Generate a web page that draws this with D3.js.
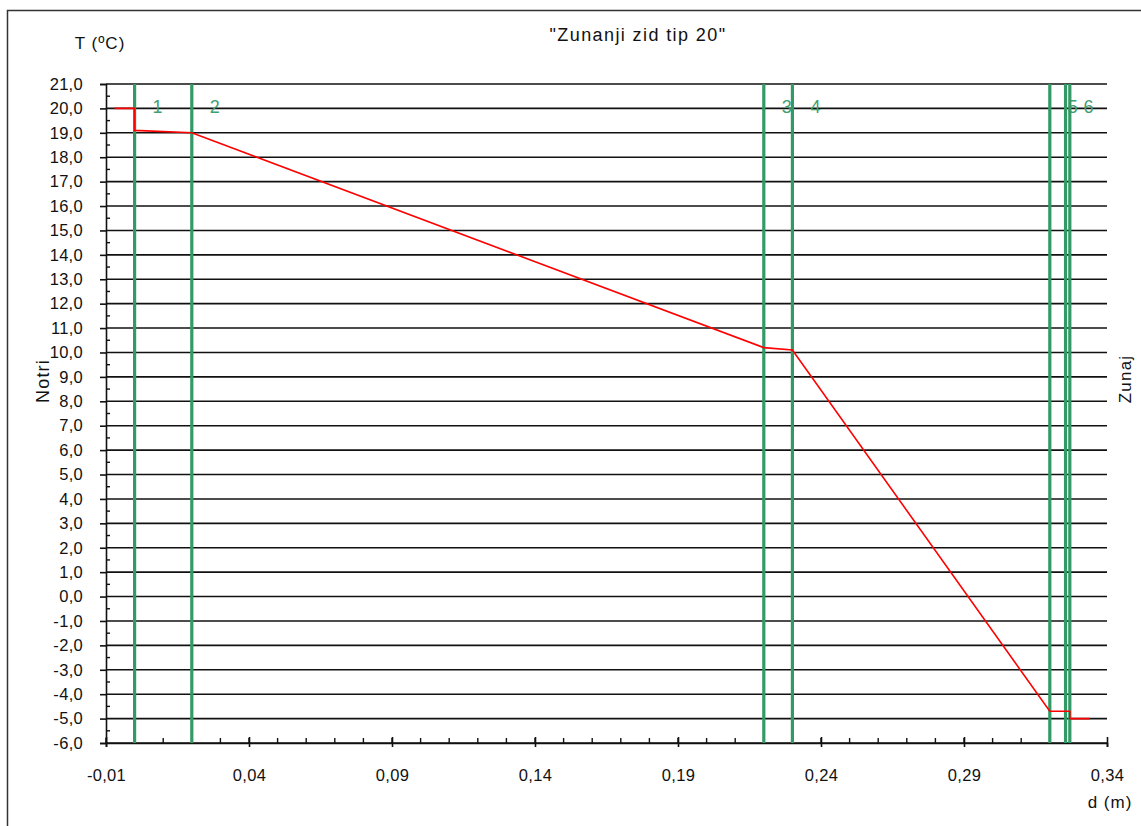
<!DOCTYPE html>
<html>
<head>
<meta charset="utf-8">
<script src="https://cdn.jsdelivr.net/npm/d3@7/dist/d3.min.js"></script>
<style>
  html, body { margin: 0; padding: 0; background: #fff; }
  svg { display: block; }
  text { font-family: "Liberation Sans", Arial, sans-serif; fill: #111; }
</style>
</head>
<body>
<svg id="chart" width="1141" height="826"></svg>
<script>
// Wall layer boundaries (m) and their numbers
const layerBounds = [0, 0.02, 0.22, 0.23, 0.32, 0.3255, 0.327];
const layerLabels = ["1", "2", "3", "4", "5", "6"];

// Temperature profile through the wall: depth (m) and temperature (°C)
const profileD = [-0.007, 0, 0, 0.02, 0.22, 0.23, 0.32, 0.3255, 0.327, 0.327, 0.334];
const profileT = [20.0, 20.0, 19.1, 19.0, 10.2, 10.1, -4.7, -4.7, -4.7, -5.0, -5.0];

// Axis ticks
const xTicks = [-0.01, 0.04, 0.09, 0.14, 0.19, 0.24, 0.29, 0.34];
const xMinorTicks = d3.range(0, 34).map(i => -0.01 + i * 0.01);
const yTicks = d3.range(-6, 22, 1);
const yMinorTicks = d3.range(-6, 21, 1).map(v => v + 0.5);

const titleText = "\"Zunanji zid tip 20\"";
const yAxisTitle = "T (\u00BAC)";
const xAxisTitle = "d (m)";
const insideLabel = "Notri";
const outsideLabel = "Zunaj";

const svg = d3.select("#chart");
const plot = { left: 106, right: 1107, top: 84, bottom: 743 };

const x = d3.scaleLinear().domain([-0.01, 0.34]).range([plot.left, plot.right]);
const y = d3.scaleLinear().domain([-6, 21]).range([plot.bottom, plot.top]);

const loc = d3.formatLocale({ decimal: ",", thousands: ".", grouping: [3], currency: ["", ""], minus: "-" });
const fx = loc.format(".2f");
const fy = loc.format(".1f");

// Outer frame
svg.append("rect")
  .attr("x", 7.5).attr("y", 10.5)
  .attr("width", 1140).attr("height", 820)
  .attr("fill", "none").attr("stroke", "#333").attr("stroke-width", 1.5);

// Horizontal grid lines
svg.append("g").selectAll("line").data(yTicks).join("line")
  .attr("x1", plot.left).attr("x2", plot.right)
  .attr("y1", d => y(d)).attr("y2", d => y(d))
  .attr("stroke", "#111").attr("stroke-width", 1.6);

// Y axis with outer major ticks and inner minor ticks
const yAxis = svg.append("g").attr("transform", `translate(${plot.left},0)`)
  .call(d3.axisLeft(y).tickValues(yTicks).tickSize(6).tickPadding(17).tickFormat(fy));
yAxis.select(".domain").attr("stroke", "#111").attr("stroke-width", 1.6);
yAxis.selectAll(".tick line").attr("stroke", "#111").attr("stroke-width", 1.6);
yAxis.selectAll(".tick text")
  .style("font-family", "'Liberation Sans', Arial, sans-serif")
  .style("font-size", "16.5px").attr("fill", "#111").attr("letter-spacing", "0.3");
svg.append("g").selectAll("line").data(yMinorTicks).join("line")
  .attr("x1", plot.left).attr("x2", plot.left + 4)
  .attr("y1", d => y(d)).attr("y2", d => y(d))
  .attr("stroke", "#111").attr("stroke-width", 1.4);

// X axis: major ticks cross the axis line, minor ticks point inward
const xAxis = svg.append("g").attr("transform", `translate(0,${plot.bottom})`)
  .call(d3.axisBottom(x).tickValues(xTicks).tickSizeOuter(0).tickSize(4).tickPadding(22).tickFormat(fx));
xAxis.select(".domain").attr("stroke", "#111").attr("stroke-width", 1.6);
xAxis.selectAll(".tick line").attr("y1", -6).attr("y2", 4).attr("stroke", "#111").attr("stroke-width", 1.6);
xAxis.selectAll(".tick text")
  .style("font-family", "'Liberation Sans', Arial, sans-serif")
  .style("font-size", "16.5px").attr("fill", "#111").attr("letter-spacing", "0.3");
svg.append("g").selectAll("line").data(xMinorTicks).join("line")
  .attr("x1", d => x(d)).attr("x2", d => x(d))
  .attr("y1", plot.bottom).attr("y2", plot.bottom - 5)
  .attr("stroke", "#111").attr("stroke-width", 1.4);

// Layer numbers, just right of each layer's inner face (drawn beneath the boundary lines)
svg.append("g").selectAll("text").data(layerLabels).join("text")
  .attr("x", (d, i) => x(layerBounds[i]) + 23)
  .attr("y", y(20) + 4.5)
  .attr("text-anchor", "middle")
  .style("font-size", "18px")
  .style("fill", "#3f9f70")
  .text(d => d);

// Layer boundaries
svg.append("g").selectAll("line").data(layerBounds).join("line")
  .attr("x1", d => x(d)).attr("x2", d => x(d))
  .attr("y1", plot.top).attr("y2", plot.bottom)
  .attr("stroke", "#339966").attr("stroke-width", 3.2);

// Temperature profile
const pts = profileD.map((d, i) => [d, profileT[i]]);
svg.append("path")
  .datum(pts)
  .attr("d", d3.line().x(p => x(p[0])).y(p => y(p[1])))
  .attr("fill", "none").attr("stroke", "#ff0000").attr("stroke-width", 1.6);

// Titles
svg.append("text").attr("x", 638).attr("y", 41)
  .attr("text-anchor", "middle").style("font-size", "18px").attr("letter-spacing", "1.4")
  .text(titleText);
svg.append("text").attr("x", 100).attr("y", 49)
  .attr("text-anchor", "middle").style("font-size", "17px").attr("letter-spacing", "1")
  .text(yAxisTitle);
svg.append("text").attr("x", 1110).attr("y", 808)
  .attr("text-anchor", "middle").style("font-size", "17px").attr("letter-spacing", "1")
  .text(xAxisTitle);
svg.append("text")
  .attr("transform", "translate(49,381) rotate(-90)")
  .attr("text-anchor", "middle").style("font-size", "18px").attr("letter-spacing", "1.2")
  .text(insideLabel);
svg.append("text")
  .attr("transform", "translate(1131,379) rotate(-90)")
  .attr("text-anchor", "middle").style("font-size", "17px").attr("letter-spacing", "1.2")
  .text(outsideLabel);
</script>
</body>
</html>
